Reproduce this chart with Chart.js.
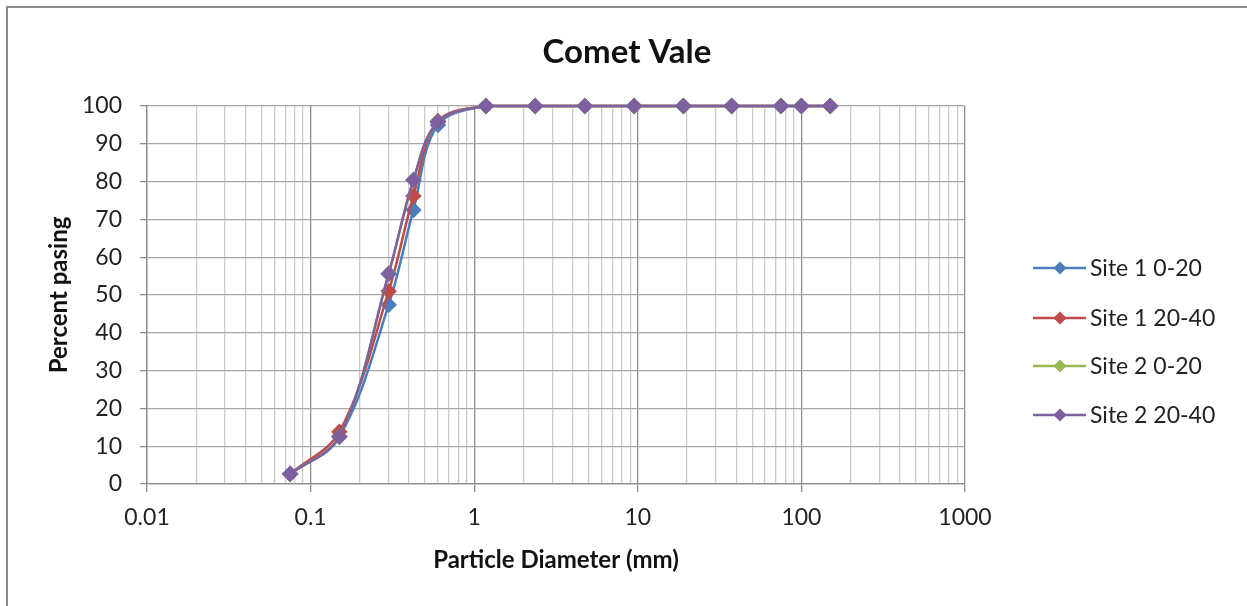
<!DOCTYPE html>
<html>
<head>
<meta charset="utf-8">
<script src="https://cdn.jsdelivr.net/npm/chart.js@4"></script>
<style>
  body { margin: 0; background: #fff; overflow: hidden; }
  #wrap { position: relative; width: 1247px; height: 606px; }
  #frame { position: absolute; left: 6px; top: 6px; width: 1300px; height: 700px;
           border-left: 2px solid #8c8c8c; border-top: 2px solid #8c8c8c; pointer-events: none; }
</style>
</head>
<body>
<div id="wrap">
  <canvas id="myChart"></canvas>
  <div id="frame"></div>
</div>
<script>
// sieve sizes (mm)
const sizes = [0.075, 0.15, 0.3, 0.425, 0.6, 1.18, 2.36, 4.75, 9.5, 19, 37.5, 75, 100, 150];

const site1_0_20 = [2.6, 12.5, 47.4, 72.5, 95, 100, 100, 100, 100, 100, 100, 100, 100, 100];
const site1_20_40 = [2.7, 13.8, 51, 76.2, 96, 100, 100, 100, 100, 100, 100, 100, 100, 100];
const site2_0_20 = [2.7, 12.5, 55.6, 80.4, 95.8, 100, 100, 100, 100, 100, 100, 100, 100, 100];
const site2_20_40 = [2.7, 12.5, 55.6, 80.4, 95.8, 100, 100, 100, 100, 100, 100, 100, 100, 100];

const seriesNames = ["Site 1 0-20", "Site 1 20-40", "Site 2 0-20", "Site 2 20-40"];
const seriesValues = [site1_0_20, site1_20_40, site2_0_20, site2_20_40];
const seriesColors = ["#4a7ebb", "#be4b48", "#98b954", "#7d60a0"];

const chartTitle = "Comet Vale";
const xMin = 0.01;
const xMax = 1000;
const yTicks = [0, 10, 20, 30, 40, 50, 60, 70, 80, 90, 100];

const FONT = "Lato, 'Open Sans', sans-serif";

function isDecade(v) {
  const l = Math.log10(v);
  return Math.abs(l - Math.round(l)) < 1e-9;
}

function logTicks() {
  const out = [];
  for (let e = -2; e <= 3; e++) {
    for (let m = 1; m <= 9; m++) {
      const v = Number((m * Math.pow(10, e)).toPrecision(6));
      if (v >= xMin && v <= xMax) out.push({ value: v });
    }
  }
  return out;
}

// title centred on the whole chart, legend on the right (Excel style)
const decorPlugin = {
  id: "decor",
  afterDraw(chart) {
    const ctx = chart.ctx;
    ctx.save();
    ctx.fillStyle = "#111";
    ctx.font = "bold 33px " + FONT;
    ctx.textAlign = "center";
    ctx.textBaseline = "middle";
    ctx.fillText(chartTitle, 627, 52);

    const rows = [268, 318, 366, 415];
    ctx.font = "23px " + FONT;
    ctx.textAlign = "left";
    seriesNames.forEach((name, i) => {
      const y = rows[i];
      ctx.strokeStyle = seriesColors[i];
      ctx.lineWidth = 2.5;
      ctx.beginPath();
      ctx.moveTo(1033, y);
      ctx.lineTo(1086, y);
      ctx.stroke();
      ctx.fillStyle = seriesColors[i];
      ctx.beginPath();
      ctx.moveTo(1060, y - 6.5);
      ctx.lineTo(1066.5, y);
      ctx.lineTo(1060, y + 6.5);
      ctx.lineTo(1053.5, y);
      ctx.closePath();
      ctx.fill();
      ctx.fillStyle = "#222";
      ctx.fillText(name, 1090, y + 1);
    });
    ctx.restore();
  },
};

const datasets = seriesNames.map((name, i) => ({
  label: name,
  data: sizes.map((s, j) => ({ x: s, y: seriesValues[i][j] })),
  borderColor: seriesColors[i],
  backgroundColor: seriesColors[i],
  borderWidth: 2.5,
  pointStyle: "rectRot",
  pointRadius: 6.5,
  pointHoverRadius: 6.5,
  tension: 0.35,
  order: 3 - i,
  clip: false,
}));

new Chart(document.getElementById("myChart"), {
  type: "line",
  data: { datasets },
  options: {
    responsive: true,
    maintainAspectRatio: false,
    animation: false,
    layout: { padding: { left: 0, right: 282, top: 106, bottom: 0 } },
    scales: {
      x: {
        type: "logarithmic",
        min: xMin,
        max: xMax,
        afterBuildTicks: (scale) => { scale.ticks = logTicks(); },
        afterFit: (scale) => { scale.height = 122; },
        ticks: {
          autoSkip: false,
          maxRotation: 0,
          padding: 12,
          color: "#222",
          font: { family: FONT, size: 23 },
          callback: (v) => (isDecade(v) ? String(v) : ""),
        },
        grid: {
          color: (c) => (c.tick && isDecade(c.tick.value) ? "#8c8c8c" : "#cbcbcb"),
          tickColor: (c) => (c.tick && isDecade(c.tick.value) ? "#8c8c8c" : "rgba(0,0,0,0)"),
          tickLength: 8,
          lineWidth: 1.3,
        },
        border: { color: "#8c8c8c", width: 1.3 },
        title: {
          display: true,
          text: "Particle Diameter (mm)",
          color: "#111",
          font: { family: FONT, size: 24, weight: "bold" },
          padding: { top: 0, bottom: 31 },
        },
      },
      y: {
        min: 0,
        max: 100,
        afterBuildTicks: (scale) => { scale.ticks = yTicks.map((v) => ({ value: v })); },
        afterFit: (scale) => { scale.width = 147; },
        ticks: {
          padding: 18,
          color: "#222",
          font: { family: FONT, size: 23 },
        },
        grid: {
          color: "#a6a6a6",
          tickColor: "#8c8c8c",
          tickLength: 7,
          lineWidth: 1.3,
        },
        border: { color: "#8c8c8c", width: 1.3 },
        title: {
          display: true,
          text: "Percent pasing",
          color: "#111",
          font: { family: FONT, size: 24, weight: "bold" },
          padding: { top: 45, bottom: 0 },
        },
      },
    },
    plugins: {
      legend: { display: false },
      tooltip: { enabled: false },
      title: { display: false },
    },
  },
  plugins: [decorPlugin],
});
</script>
</body>
</html>
